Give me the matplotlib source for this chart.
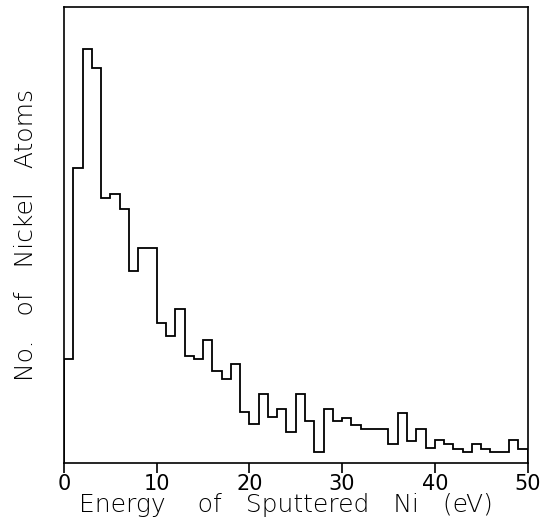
import numpy as np
import matplotlib.pyplot as plt

# energy bins (eV), 1 eV wide
bin_edges = np.arange(0, 51, 1)

# counts per bin (arbitrary units)
counts = [104, 295, 414, 395, 265, 269, 254, 192, 215, 215,
          140, 127, 154, 107, 104, 123, 92, 84, 99, 51,
          39, 69, 46, 54, 31, 69, 42, 11, 54, 42,
          45, 38, 34, 34, 34, 19, 50, 22, 34, 15,
          23, 19, 14, 11, 19, 14, 11, 11, 23, 14]

xticks = [0, 10, 20, 30, 40, 50]

fig = plt.figure(figsize=(5.48, 5.19), dpi=100)
ax = fig.add_axes([0.1168, 0.1079, 0.8458, 0.8786])

ax.stairs(counts, bin_edges, color="black", linewidth=1.3)

ax.set_xlim(0, 50)
ax.set_ylim(0, 456)
ax.set_xticks(xticks)
ax.set_yticks([])
ax.tick_params(axis="x", direction="out", length=7, width=1.2,
               labelsize=15, pad=1)
for s in ax.spines.values():
    s.set_linewidth(1.2)

# wide word spacing like the original lettering
ax.set_xlabel("Energy    of   Sputtered   Ni   (eV)", fontsize=18,
              labelpad=-1, fontweight="light")
ax.xaxis.set_label_coords(0.478, -0.065)
ax.set_ylabel("No.   of   Nickel   Atoms", fontsize=18, labelpad=19,
              fontweight="light")

fig.savefig("out.png", dpi=100)
